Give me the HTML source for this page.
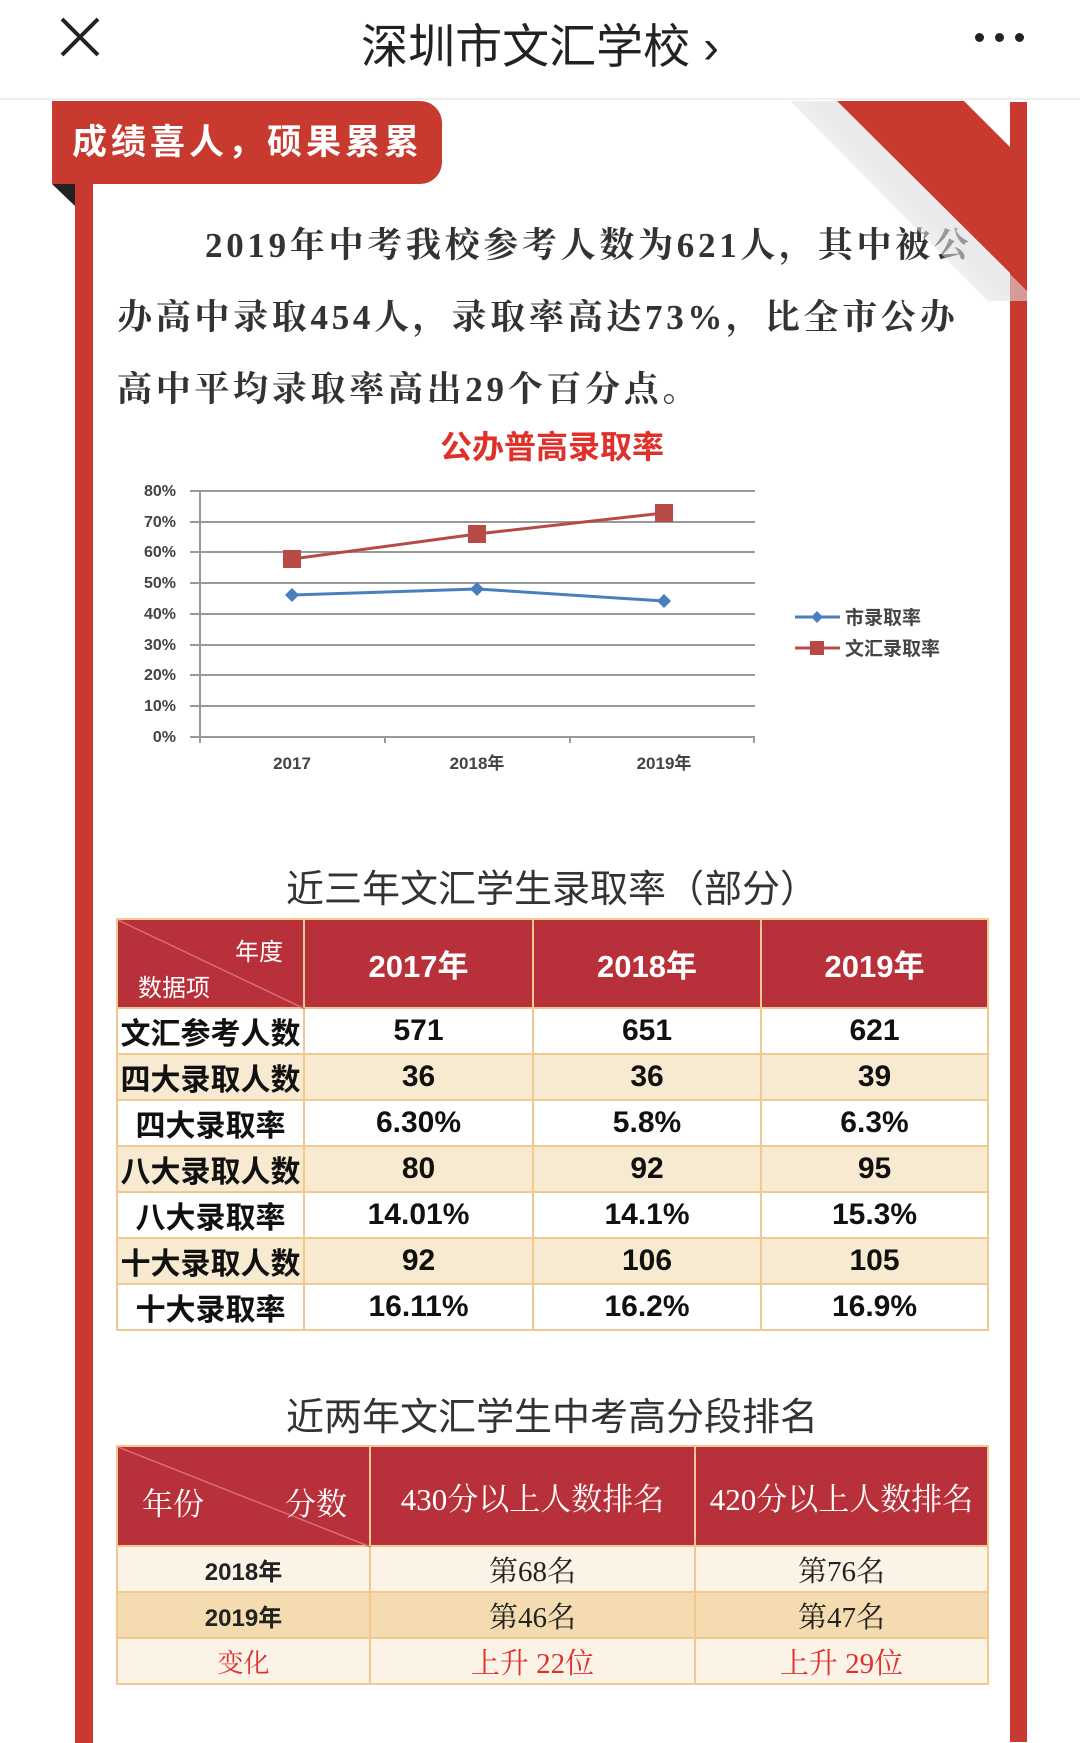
<!DOCTYPE html>
<html><head><meta charset="utf-8">
<style>
*{margin:0;padding:0;box-sizing:border-box}
body{width:1080px;height:1741px;position:relative;overflow:hidden;background:#fff;font-family:"Liberation Sans","Noto Sans CJK SC",sans-serif}
.a{position:absolute}
.hdr{left:0;top:0;width:1080px;height:100px;background:#fff;border-bottom:2px solid #eee}
.title{left:0;width:1080px;top:8px;text-align:center;font-size:47px;color:#222}
.p{font-family:"Liberation Serif","Noto Serif CJK SC",serif;font-weight:bold;font-size:35px;color:#333;white-space:nowrap;letter-spacing:3.7px}
table{border-collapse:collapse;position:absolute;table-layout:fixed}
td{text-align:center;border:2px solid #f0c890;padding:0}
.t1 td{font-weight:bold;font-size:30px;color:#111;height:43px}
.t1 tr.h td{background:#b8303a;color:#fff;height:89px;font-size:31px}
.t1 tr.b td{background:#f8ead0}
.t2 td{font-family:"Liberation Serif","Noto Serif CJK SC",serif;font-size:29px;color:#222;height:46px}
.t2 tr.h td{background:#b8303a;color:#fff;height:100px;font-size:31px}
</style></head><body>
<div class="a hdr"></div>
<svg class="a" style="left:58px;top:17px" width="46" height="40"><path d="M4 2L40 38M40 2L4 38" stroke="#222" stroke-width="4"/></svg>
<div class="a title">深圳市文汇学校 ›</div>
<div class="a" style="left:975px;top:33px;width:9px;height:9px;border-radius:50%;background:#222"></div>
<div class="a" style="left:995px;top:33px;width:9px;height:9px;border-radius:50%;background:#222"></div>
<div class="a" style="left:1015px;top:33px;width:9px;height:9px;border-radius:50%;background:#222"></div>

<div class="a" style="left:75px;top:183px;width:18px;height:1560px;background:#c8392f"></div>
<div class="a" style="left:1010px;top:102px;width:17px;height:1640px;background:#c8392f"></div>
<svg class="a" style="left:52px;top:184px" width="24" height="22"><polygon points="0,0 23,0 23,22" fill="#222"/></svg>
<div class="a" style="left:52px;top:101px;width:390px;height:83px;background:#c8392f;border-radius:0 22px 22px 0;color:#fff;font-size:35px;font-weight:bold;line-height:83px;padding-left:20px;letter-spacing:4px">成绩喜人，硕果累累</div>

<div class="a p" style="left:205px;top:218px">2019年中考我校参考人数为621人，其中被公</div>
<div class="a p" style="left:117px;top:290px">办高中录取454人，录取率高达73%，比全市公办</div>
<div class="a p" style="left:117px;top:362px">高中平均录取率高出29个百分点。</div>

<svg class="a" style="left:780px;top:101px" width="250" height="200">
<defs><linearGradient id="g" x1="1" y1="0" x2="0" y2="1"><stop offset="0.45" stop-color="#ddd" stop-opacity="0.6"/><stop offset="0.8" stop-color="#fff" stop-opacity="0"/></linearGradient></defs>
<polygon points="10,0 57,0 247,190 247,240" fill="url(#g)"/>
<polygon points="57,0 184,0 247,63 247,189" fill="#c8392f"/>
</svg>

<svg class="a" style="left:0;top:420px" width="1080" height="380" font-family="Liberation Sans, Noto Sans CJK SC, sans-serif">
<text x="552" y="38" text-anchor="middle" fill="#e0302a" font-size="32" font-weight="bold" font-family="Liberation Sans, Noto Sans CJK SC, sans-serif">公办普高录取率</text>
<g stroke="#999" stroke-width="2">
<line x1="190" x2="755" y1="71" y2="71"/><line x1="190" x2="755" y1="102" y2="102"/><line x1="190" x2="755" y1="132" y2="132"/><line x1="190" x2="755" y1="163" y2="163"/><line x1="190" x2="755" y1="194" y2="194"/><line x1="190" x2="755" y1="225" y2="225"/><line x1="190" x2="755" y1="255" y2="255"/><line x1="190" x2="755" y1="286" y2="286"/><line x1="190" x2="755" y1="317" y2="317"/>
<line x1="200" x2="200" y1="71" y2="323"/><line x1="385" x2="385" y1="317" y2="323"/><line x1="570" x2="570" y1="317" y2="323"/><line x1="754" x2="754" y1="317" y2="323"/>
</g>
<g fill="#444" font-size="16" font-weight="bold" text-anchor="end">
<text x="176" y="76">80%</text><text x="176" y="107">70%</text><text x="176" y="137">60%</text><text x="176" y="168">50%</text><text x="176" y="199">40%</text><text x="176" y="230">30%</text><text x="176" y="260">20%</text><text x="176" y="291">10%</text><text x="176" y="322">0%</text>
</g>
<g fill="#444" font-size="17" font-weight="bold" text-anchor="middle"><text x="292" y="349">2017</text><text x="477" y="349">2018年</text><text x="664" y="349">2019年</text></g>
<polyline points="292,175 477,169 664,181" fill="none" stroke="#4a7ebf" stroke-width="3"/>
<g fill="#4a7ebf"><polygon points="292,168 299,175 292,182 285,175"/><polygon points="477,162 484,169 477,176 470,169"/><polygon points="664,174 671,181 664,188 657,181"/></g>
<polyline points="292,139 477,114 664,93" fill="none" stroke="#b84a45" stroke-width="3"/>
<g fill="#b84a45"><rect x="283" y="130" width="18" height="18"/><rect x="468" y="105" width="18" height="18"/><rect x="655" y="84" width="18" height="18"/></g>
<line x1="795" x2="840" y1="197" y2="197" stroke="#4a7ebf" stroke-width="3"/><polygon points="817,191 823,197 817,203 811,197" fill="#4a7ebf"/>
<line x1="795" x2="840" y1="228" y2="228" stroke="#b84a45" stroke-width="3"/><rect x="810" y="221" width="14" height="14" fill="#b84a45"/>
<g fill="#444" font-size="19" font-weight="bold"><text x="845" y="204">市录取率</text><text x="845" y="235">文汇录取率</text></g>
</svg>

<div class="a" style="left:0;width:1104px;top:858px;text-align:center;font-size:38px;color:#333">近三年文汇学生录取率（部分）</div>
<table class="t1" style="left:116px;top:918px;width:871px">
<colgroup><col style="width:187px"><col style="width:229px"><col style="width:228px"><col style="width:227px"></colgroup>
<tr class="h"><td style="position:relative;font-weight:normal;font-size:24px"><svg class="a" style="left:0;top:0" width="187" height="89"><line x1="0" y1="0" x2="187" y2="89" stroke="#d87070" stroke-width="1.5"/></svg><span class="a" style="right:20px;top:12px">年度</span><span class="a" style="left:20px;top:48px">数据项</span></td><td>2017年</td><td>2018年</td><td>2019年</td></tr>
<tr><td>文汇参考人数</td><td>571</td><td>651</td><td>621</td></tr>
<tr class="b"><td>四大录取人数</td><td>36</td><td>36</td><td>39</td></tr>
<tr><td>四大录取率</td><td>6.30%</td><td>5.8%</td><td>6.3%</td></tr>
<tr class="b"><td>八大录取人数</td><td>80</td><td>92</td><td>95</td></tr>
<tr><td>八大录取率</td><td>14.01%</td><td>14.1%</td><td>15.3%</td></tr>
<tr class="b"><td>十大录取人数</td><td>92</td><td>106</td><td>105</td></tr>
<tr><td>十大录取率</td><td>16.11%</td><td>16.2%</td><td>16.9%</td></tr>
</table>

<div class="a" style="left:0;width:1104px;top:1386px;text-align:center;font-size:38px;color:#333">近两年文汇学生中考高分段排名</div>
<table class="t2" style="left:116px;top:1445px;width:871px">
<colgroup><col style="width:253px"><col style="width:325px"><col style="width:293px"></colgroup>
<tr class="h"><td style="position:relative"><svg class="a" style="left:0;top:0" width="253" height="100"><line x1="0" y1="0" x2="253" y2="100" stroke="#d87070" stroke-width="1.5"/></svg><span class="a" style="left:24px;top:32px">年份</span><span class="a" style="right:22px;top:32px">分数</span></td><td>430分以上人数排名</td><td>420分以上人数排名</td></tr>
<tr style="background:#fbf3e6"><td style="font-family:'Liberation Sans','Noto Sans CJK SC',sans-serif;font-weight:bold;font-size:24px">2018年</td><td>第68名</td><td>第76名</td></tr>
<tr style="background:#f5dcb0"><td style="font-family:'Liberation Sans','Noto Sans CJK SC',sans-serif;font-weight:bold;font-size:24px">2019年</td><td>第46名</td><td>第47名</td></tr>
<tr style="background:#fbf3e6"><td style="color:#e03030;font-size:26px">变化</td><td style="color:#e03030">上升 22位</td><td style="color:#e03030">上升 29位</td></tr>
</table>
</body></html>
